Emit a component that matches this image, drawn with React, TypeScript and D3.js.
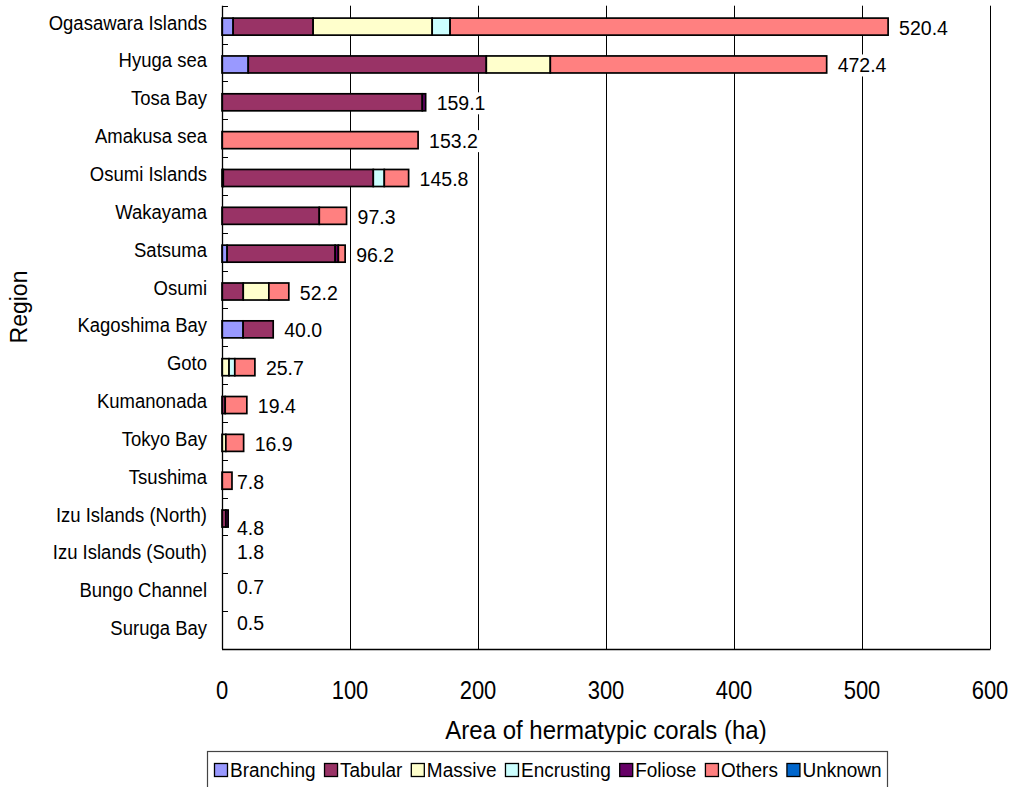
import React, { useEffect, useRef } from 'react';
import * as d3 from 'd3';

// regions, top to bottom
const regions = [
  'Ogasawara Islands', 'Hyuga sea', 'Tosa Bay', 'Amakusa sea', 'Osumi Islands',
  'Wakayama', 'Satsuma', 'Osumi', 'Kagoshima Bay', 'Goto', 'Kumanonada',
  'Tokyo Bay', 'Tsushima', 'Izu Islands (North)', 'Izu Islands (South)',
  'Bungo Channel', 'Suruga Bay',
];

const totals = [520.4, 472.4, 159.1, 153.2, 145.8, 97.3, 96.2, 52.2, 40.0, 25.7, 19.4, 16.9, 7.8, 4.8, 1.8, 0.7, 0.5];

const coralTypes = ['Branching', 'Tabular', 'Massive', 'Encrusting', 'Foliose', 'Others', 'Unknown'];
const typeColors = ['#9999FF', '#993366', '#FFFFCC', '#CCFFFF', '#660066', '#FF8080', '#0066CC'];

// area (ha) per coral type, same order as regions
const branching = [8.7, 20.5, 0, 0, 1.0, 0, 4.0, 0, 16.5, 0, 0, 0, 0, 0, 0, 0, 0];
const tabular = [62.5, 186.0, 156.5, 0, 117.2, 76.0, 84.4, 16.6, 23.5, 0, 2.5, 0, 0, 3.0, 0, 0, 0];
const massive = [93.0, 50.0, 0, 0, 0, 0, 0, 20.0, 0, 5.5, 0, 3.0, 0, 0, 0, 0, 0];
const encrusting = [14.0, 0, 0, 0, 8.6, 0, 0, 0, 0, 4.5, 0, 0, 0, 0, 0, 0, 0];
const foliose = [0, 0, 2.6, 0, 0, 0, 2.5, 0, 0, 0, 0, 0, 0, 1.8, 0, 0, 0];
const others = [342.2, 215.9, 0, 153.2, 19.0, 21.3, 5.3, 15.6, 0, 15.7, 16.9, 13.9, 7.8, 0, 0, 0, 0];
const unknown = [0, 0, 0, 0, 0, 0, 0, 0, 0, 0, 0, 0, 0, 0, 0, 0, 0];

const xTicks = [0, 100, 200, 300, 400, 500, 600];

const FONT = '"Liberation Sans", Arial, sans-serif';

export default function App() {
  const ref = useRef<SVGSVGElement>(null);

  useEffect(() => {
    const W = 1010, H = 787;
    const left = 222, right = 990, top = 5.7, bottom = 649;

    const svg = d3.select(ref.current);
    svg.selectAll('*').remove();
    svg.attr('width', W).attr('height', H);

    const table = regions.map((r, i) => ({
      region: r,
      Branching: branching[i], Tabular: tabular[i], Massive: massive[i],
      Encrusting: encrusting[i], Foliose: foliose[i], Others: others[i], Unknown: unknown[i],
    }));

    const x = d3.scaleLinear().domain([0, 600]).range([left, right]);
    const y = d3.scaleBand().domain(regions).range([top, bottom]).paddingInner(0.55).paddingOuter(0.275);
    const band = d3.scaleBand().domain(regions).range([top, bottom]);
    const color = d3.scaleOrdinal<string, string>().domain(coralTypes).range(typeColors);

    // gridlines
    svg.append('g').selectAll('line').data(xTicks.slice(1)).enter().append('line')
      .attr('x1', d => Math.round(x(d)) + 0.5).attr('x2', d => Math.round(x(d)) + 0.5)
      .attr('y1', top).attr('y2', bottom)
      .attr('stroke', '#000').attr('stroke-width', 1);

    // stacked bars
    const stack = d3.stack<any>().keys(coralTypes)(table);
    const layers = svg.append('g').selectAll('g').data(stack).enter().append('g')
      .attr('fill', d => color(d.key));
    layers.selectAll('rect').data(d => d.filter(s => s[1] - s[0] > 0)).enter().append('rect')
      .attr('x', d => x(d[0]))
      .attr('y', d => y(d.data.region)! + 2)
      .attr('width', d => x(d[1]) - x(d[0]))
      .attr('height', y.bandwidth())
      .attr('stroke', '#000').attr('stroke-width', 1.7);

    // total labels with white backgrounds
    const labelShift = (i: number) => (i === 13 ? 8 : i === 14 ? -5 : i === 15 ? -8 : i === 16 ? -10 : 0);
    const labels = svg.append('g');
    regions.forEach((r, i) => {
      const lx = totals[i] < 10 ? 237 : x(totals[i]) + 11;
      const ly = band(r)! + band.bandwidth() / 2 + 10 + labelShift(i);
      const t = labels.append('text')
        .attr('x', lx).attr('y', ly)
        .attr('font-family', FONT).attr('font-size', 19.5).attr('fill', '#000')
        .text(totals[i].toFixed(1));
      const bb = (t.node() as SVGTextElement).getBBox();
      labels.insert('rect', () => t.node() as any)
        .attr('x', bb.x - 3).attr('y', bb.y).attr('width', bb.width + 6).attr('height', bb.height)
        .attr('fill', '#fff');
    });

    // axes lines
    svg.append('line').attr('x1', left + 0.5).attr('x2', left + 0.5).attr('y1', top).attr('y2', bottom)
      .attr('stroke', '#000').attr('stroke-width', 1.3);
    svg.append('line').attr('x1', left).attr('x2', right + 0.5).attr('y1', bottom + 0.5).attr('y2', bottom + 0.5)
      .attr('stroke', '#000').attr('stroke-width', 1.3);

    // y ticks at category boundaries (inside)
    const bounds = regions.map(r => band(r)!).concat([bottom]);
    svg.append('g').selectAll('line').data(bounds).enter().append('line')
      .attr('x1', left).attr('x2', left + 6)
      .attr('y1', d => Math.round(d) + 0.5).attr('y2', d => Math.round(d) + 0.5)
      .attr('stroke', '#000');

    // x ticks (inside)
    svg.append('g').selectAll('line').data(xTicks).enter().append('line')
      .attr('x1', d => Math.round(x(d)) + 0.5).attr('x2', d => Math.round(x(d)) + 0.5)
      .attr('y1', bottom - 6).attr('y2', bottom)
      .attr('stroke', '#000');

    // category labels
    svg.append('g').selectAll('text').data(regions).enter().append('text')
      .attr('transform', d => `translate(207,${band(d)! + band.bandwidth() / 2 + 5}) scale(1,1.08)`)
      .attr('text-anchor', 'end')
      .attr('font-family', FONT).attr('font-size', 18.5).attr('fill', '#000')
      .text(d => d);

    // x tick labels
    svg.append('g').selectAll('text').data(xTicks).enter().append('text')
      .attr('transform', d => `translate(${x(d)},${699}) scale(1,1.2)`)
      .attr('text-anchor', 'middle')
      .attr('font-family', FONT).attr('font-size', 22).attr('fill', '#000')
      .text(d => d);

    // axis titles
    svg.append('text')
      .attr('transform', `translate(${(left + right) / 2},${739}) scale(1,1.08)`)
      .attr('text-anchor', 'middle')
      .attr('font-family', FONT).attr('font-size', 24).attr('fill', '#000')
      .text('Area of hermatypic corals (ha)');
    svg.append('text')
      .attr('transform', `translate(${27},${307}) rotate(-90)`)
      .attr('text-anchor', 'middle')
      .attr('font-family', FONT).attr('font-size', 23).attr('fill', '#000')
      .text('Region');

    // legend
    const lg = svg.append('g');
    lg.append('rect').attr('x', 207.5).attr('y', 751.5).attr('width', 680).attr('height', 45)
      .attr('fill', '#fff').attr('stroke', '#444').attr('stroke-width', 1.2);
    let lx = 214;
    coralTypes.forEach(k => {
      lg.append('rect').attr('x', lx + 0.5).attr('y', 763.5).attr('width', 13).attr('height', 13)
        .attr('fill', color(k)).attr('stroke', '#000').attr('stroke-width', 1.3);
      const t = lg.append('text').attr('transform', `translate(${lx + 16},777) scale(1,1.08)`)
        .attr('font-family', FONT).attr('font-size', 19).attr('fill', '#000').text(k);
      lx += 16 + (t.node() as SVGTextElement).getComputedTextLength() + 8.5;
    });
  }, []);

  return (
    <div style={{ position: 'absolute', left: 0, top: 0 }}>
      <svg ref={ref} style={{ display: 'block', background: '#fff' }}></svg>
    </div>
  );
}
